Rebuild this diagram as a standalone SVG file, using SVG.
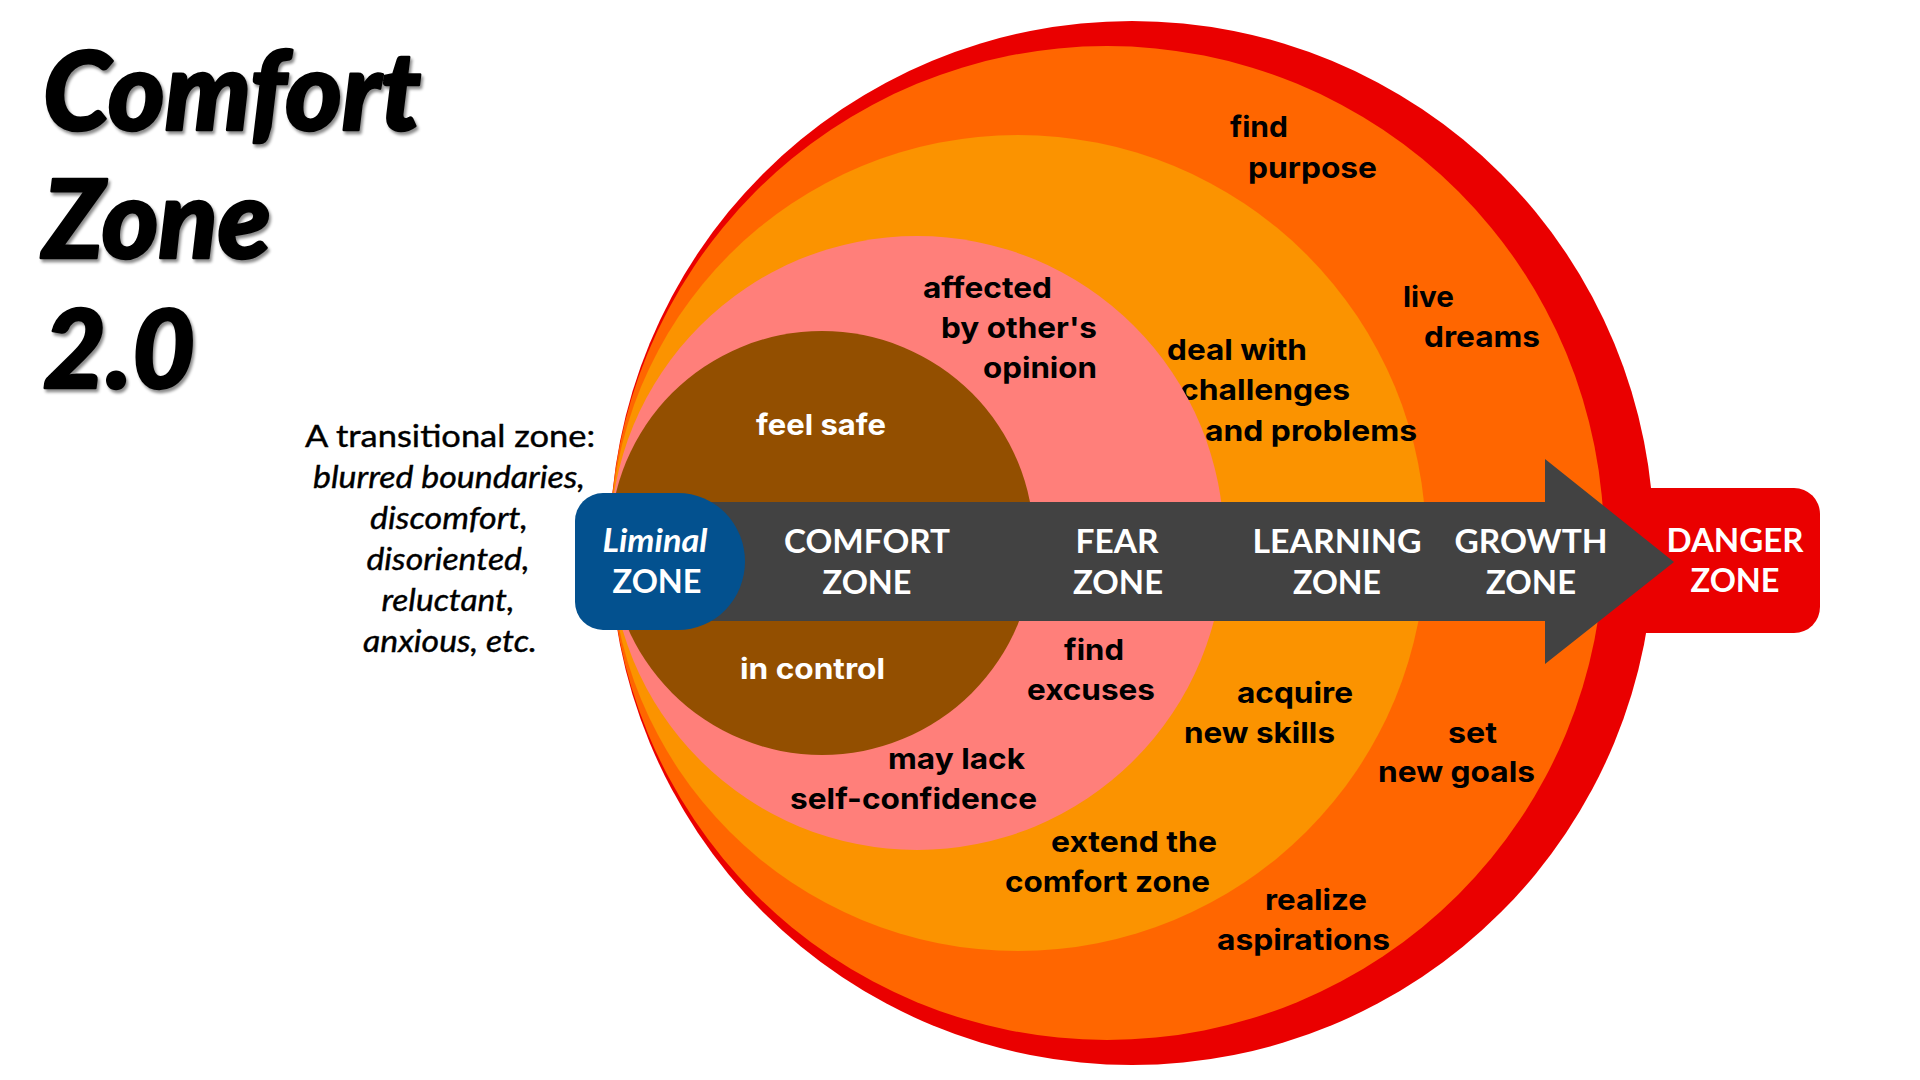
<svg xmlns="http://www.w3.org/2000/svg" width="1920" height="1080" viewBox="0 0 1920 1080">
<defs>
<style>
.t{font-family:Inter,"Noto Sans","Liberation Sans",sans-serif;font-weight:700;font-size:29px;fill:#000}
.w{fill:#fff}
.z{font-family:Lato,"Liberation Sans",sans-serif;font-weight:700;font-size:33px;fill:#fff;text-anchor:middle}
.n{font-family:Lato,"Liberation Sans",sans-serif;font-size:30px;fill:#000;text-anchor:middle;stroke:#000;stroke-width:0.4}
.i{font-style:italic}
.ttl{font-family:Lato,"Liberation Sans",sans-serif;font-weight:900;font-style:italic;font-size:108px;fill:#000;stroke:#000;stroke-width:2.5;stroke-linejoin:round}
</style>
<filter id="sh" x="-10%" y="-10%" width="130%" height="130%">
<feDropShadow dx="2" dy="3" stdDeviation="1.5" flood-color="#000" flood-opacity="0.45"/>
</filter>
</defs>
<rect width="1920" height="1080" fill="#fff"/>

<g id="title" filter="url(#sh)">
<text class="ttl" x="43" y="130" textLength="378" lengthAdjust="spacingAndGlyphs">Comfort</text>
<text class="ttl" x="43" y="258" textLength="228" lengthAdjust="spacingAndGlyphs">Zone</text>
<text class="ttl" x="43" y="388" textLength="152" lengthAdjust="spacingAndGlyphs">2.0</text>
</g>

<g id="liminal-note">
<text class="n" x="450" y="447" textLength="290" lengthAdjust="spacingAndGlyphs">A transitional zone:</text>
<text class="n i" x="449" y="488" textLength="272" lengthAdjust="spacingAndGlyphs">blurred boundaries,</text>
<text class="n i" x="449" y="529" textLength="158" lengthAdjust="spacingAndGlyphs">discomfort,</text>
<text class="n i" x="448" y="570" textLength="163" lengthAdjust="spacingAndGlyphs">disoriented,</text>
<text class="n i" x="448" y="611" textLength="133" lengthAdjust="spacingAndGlyphs">reluctant,</text>
<text class="n i" x="450" y="652" textLength="174" lengthAdjust="spacingAndGlyphs">anxious, etc.</text>
</g>

<g id="danger-zone-shape">
<circle cx="1132" cy="543" r="522" fill="#EA0000"/>
<rect x="1600" y="488" width="220" height="145" rx="26" fill="#EA0000"/>
</g>

<g id="growth-zone">
<circle cx="1107" cy="543" r="497" fill="#FF6600"/>
<text class="t" x="1230" y="137" textLength="58" lengthAdjust="spacingAndGlyphs">find</text>
<text class="t" x="1248" y="178" textLength="129" lengthAdjust="spacingAndGlyphs">purpose</text>
<text class="t" x="1403" y="307" textLength="51" lengthAdjust="spacingAndGlyphs">live</text>
<text class="t" x="1424" y="347" textLength="116" lengthAdjust="spacingAndGlyphs">dreams</text>
<text class="t" x="1448" y="743" textLength="49" lengthAdjust="spacingAndGlyphs">set</text>
<text class="t" x="1378" y="782" textLength="157" lengthAdjust="spacingAndGlyphs">new goals</text>
<text class="t" x="1265" y="910" textLength="102" lengthAdjust="spacingAndGlyphs">realize</text>
<text class="t" x="1217" y="950" textLength="173" lengthAdjust="spacingAndGlyphs">aspirations</text>
</g>

<g id="learning-zone">
<circle cx="1018" cy="543" r="408" fill="#FB9300"/>
<text class="t" x="1167" y="360" textLength="140" lengthAdjust="spacingAndGlyphs">deal with</text>
<text class="t" x="1180" y="400" textLength="170" lengthAdjust="spacingAndGlyphs">challenges</text>
<text class="t" x="1205" y="441" textLength="212" lengthAdjust="spacingAndGlyphs">and problems</text>
<text class="t" x="1237" y="703" textLength="116" lengthAdjust="spacingAndGlyphs">acquire</text>
<text class="t" x="1184" y="743" textLength="151" lengthAdjust="spacingAndGlyphs">new skills</text>
<text class="t" x="1051" y="852" textLength="166" lengthAdjust="spacingAndGlyphs">extend the</text>
<text class="t" x="1005" y="892" textLength="205" lengthAdjust="spacingAndGlyphs">comfort zone</text>
</g>

<g id="fear-zone">
<circle cx="917" cy="543" r="307" fill="#FF7F7A"/>
<text class="t" x="923" y="298" textLength="129" lengthAdjust="spacingAndGlyphs">affected</text>
<text class="t" x="941" y="338" textLength="156" lengthAdjust="spacingAndGlyphs">by other's</text>
<text class="t" x="983" y="378" textLength="114" lengthAdjust="spacingAndGlyphs">opinion</text>
<text class="t" x="1064" y="660" textLength="60" lengthAdjust="spacingAndGlyphs">find</text>
<text class="t" x="1027" y="700" textLength="128" lengthAdjust="spacingAndGlyphs">excuses</text>
<text class="t" x="888" y="769" textLength="137" lengthAdjust="spacingAndGlyphs">may lack</text>
<text class="t" x="790" y="809" textLength="247" lengthAdjust="spacingAndGlyphs">self-confidence</text>
</g>

<g id="comfort-zone">
<circle cx="822" cy="543" r="212" fill="#934F00"/>
<text class="t w" x="756" y="435" textLength="130" lengthAdjust="spacingAndGlyphs">feel safe</text>
<text class="t w" x="740" y="679" textLength="145" lengthAdjust="spacingAndGlyphs">in control</text>
</g>

<g id="connectors">
<polygon id="progress-arrow" points="640,502 1545,502 1545,459 1674,562 1545,664 1545,621 640,621" fill="#424242"/>
</g>

<g id="liminal-zone">
<path d="M603,493 H678 A67,68.5 0 0 1 678,630 H603 A28,28 0 0 1 575,602 V521 A28,28 0 0 1 603,493 Z" fill="#03518F"/>
<text class="z i" x="655" y="552" font-size="34" textLength="105" lengthAdjust="spacingAndGlyphs">Liminal</text>
<text class="z" x="657" y="593" textLength="89" lengthAdjust="spacingAndGlyphs">ZONE</text>
</g>

<g id="zone-labels">
<text class="z" x="867" y="553" textLength="166" lengthAdjust="spacingAndGlyphs">COMFORT</text>
<text class="z" x="867" y="594" textLength="89" lengthAdjust="spacingAndGlyphs">ZONE</text>
<text class="z" x="1117" y="553" textLength="83" lengthAdjust="spacingAndGlyphs">FEAR</text>
<text class="z" x="1118" y="594" textLength="90" lengthAdjust="spacingAndGlyphs">ZONE</text>
<text class="z" x="1337" y="553" textLength="169" lengthAdjust="spacingAndGlyphs">LEARNING</text>
<text class="z" x="1337" y="594" textLength="88" lengthAdjust="spacingAndGlyphs">ZONE</text>
<text class="z" x="1531" y="553" textLength="153" lengthAdjust="spacingAndGlyphs">GROWTH</text>
<text class="z" x="1531" y="594" textLength="90" lengthAdjust="spacingAndGlyphs">ZONE</text>
<text class="z" x="1735" y="552" textLength="137" lengthAdjust="spacingAndGlyphs">DANGER</text>
<text class="z" x="1735" y="592" textLength="89" lengthAdjust="spacingAndGlyphs">ZONE</text>
</g>
</svg>
